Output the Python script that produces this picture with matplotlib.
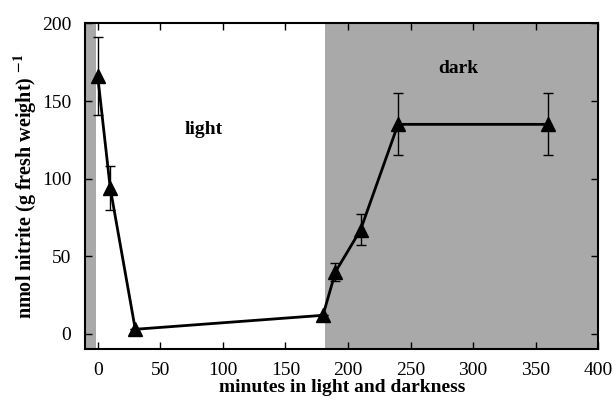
import numpy as np
import matplotlib.pyplot as plt

# time (minutes) and nitrite content
minutes = [0, 10, 30, 180, 190, 210, 240, 360]
nitrite = [166, 94, 3, 12, 40, 67, 135, 135]
err = [25, 14, 0, 0, 6, 10, 20, 20]

dark_start = 182

plt.rcParams['font.family'] = ['Liberation Serif', 'DejaVu Serif']
plt.rcParams['mathtext.fontset'] = 'stix'
plt.rcParams['mathtext.default'] = 'bf'

fig = plt.figure(figsize=(6.13, 4.04), dpi=100)
ax = fig.add_axes([0.139, 0.135, 0.837, 0.807])

ax.axvspan(-10, -1, color='#a9a9a9', lw=0, zorder=0)
ax.axvspan(dark_start, 400, color='#a9a9a9', lw=0, zorder=0)

ax.errorbar(minutes, nitrite, yerr=err, fmt='none', ecolor='black',
            elinewidth=1.0, capsize=3.5, capthick=1.0, zorder=2)
ax.plot(minutes, nitrite, color='black', lw=2, marker='^', ms=10, zorder=3)

ax.text(85, 132, 'light', fontsize=14, fontweight='bold', ha='center', va='center')
ax.text(288, 171, 'dark', fontsize=14, fontweight='bold', ha='center', va='center')

ax.set_xlim(-10, 400)
ax.set_ylim(-10, 200)
ax.set_xticks(np.arange(0, 401, 50))
ax.set_yticks(np.arange(0, 201, 50))
ax.tick_params(direction='in', top=True, right=True, labelsize=14, length=5, width=1)
ax.tick_params(axis='y', pad=10)
ax.tick_params(axis='x', pad=9)
for s in ax.spines.values():
    s.set_linewidth(1.5)

ax.set_xlabel('minutes in light and darkness', fontsize=14, fontweight='bold', labelpad=0)
ax.set_ylabel('nmol nitrite (g fresh weight) $^{-1}$', fontsize=14.5, fontweight='bold', labelpad=2)

fig.savefig('out.png', dpi=100)
